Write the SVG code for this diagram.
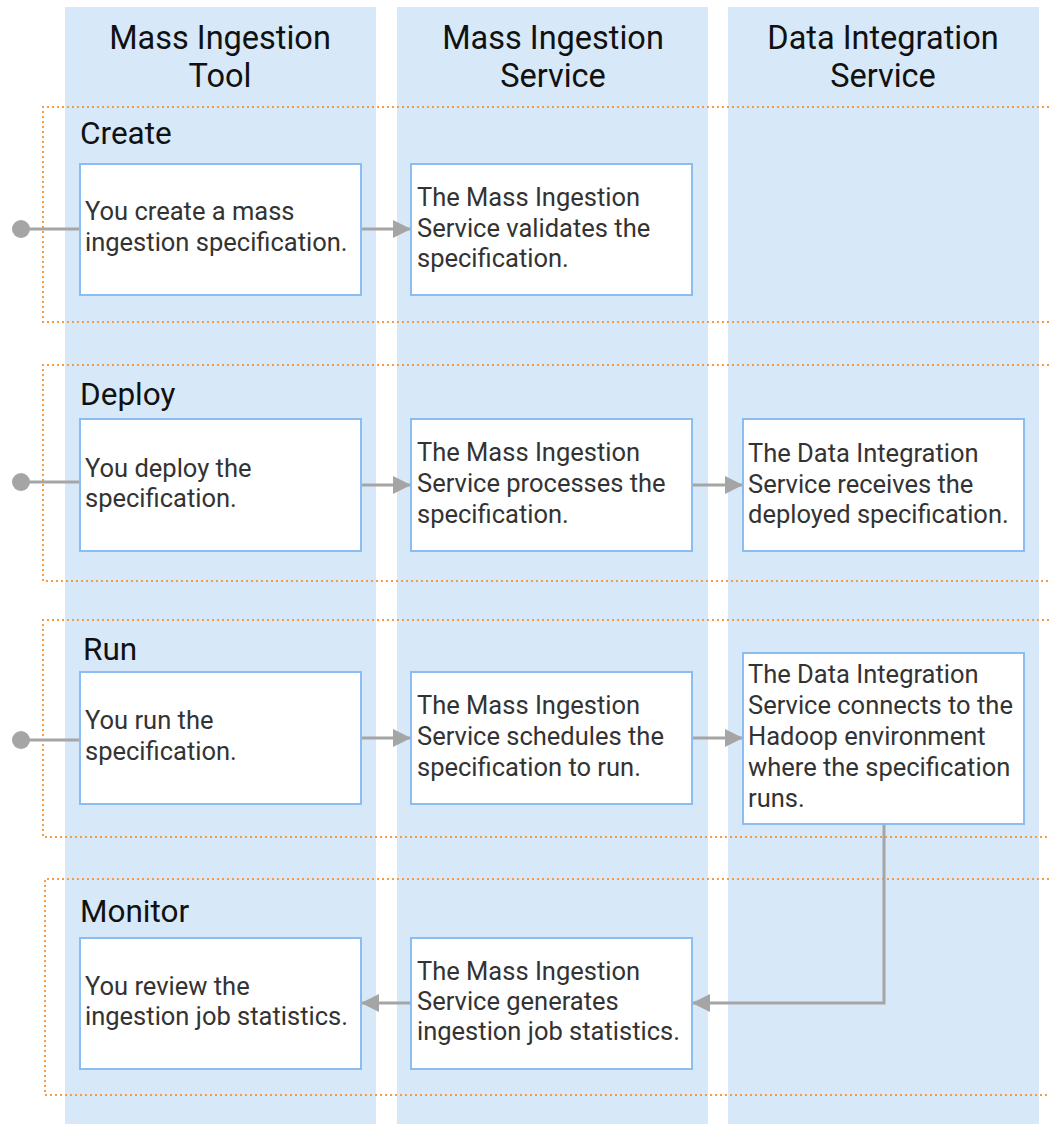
<svg xmlns="http://www.w3.org/2000/svg" width="1049" height="1124" viewBox="0 0 1049 1124">
<style>
.lane{fill:#d7e9f8}
.frame{fill:none;stroke:#f59a45;stroke-width:2;stroke-dasharray:2 3}
.box{fill:#fff;stroke:#8bbcf2;stroke-width:2}
.hd{font-family:Roboto,"Liberation Sans",sans-serif;font-size:32.5px;fill:#111;text-anchor:middle}
.ph{font-family:Roboto,"Liberation Sans",sans-serif;font-size:31.5px;fill:#111}
.tx{font-family:Roboto,"Liberation Sans",sans-serif;font-size:25.5px;fill:#333}
.cn{fill:none;stroke:#a5a5a5;stroke-width:3}
</style>
<defs>
<marker id="ah" markerUnits="userSpaceOnUse" markerWidth="20" markerHeight="20" refX="18" refY="9" orient="auto">
<path d="M0,0 L18,9 L0,18 Z" fill="#a5a5a5"/>
</marker>
</defs>
<rect width="1049" height="1124" fill="#fff"/>
<g id="lanes">
<rect class="lane" x="65" y="7" width="311" height="1117"/>
<rect class="lane" x="397" y="7" width="311" height="1117"/>
<rect class="lane" x="728" y="7" width="311" height="1117"/>
<text class="hd" x="220" y="49">Mass Ingestion</text>
<text class="hd" x="220" y="87">Tool</text>
<text class="hd" x="553" y="49">Mass Ingestion</text>
<text class="hd" x="553" y="87">Service</text>
<text class="hd" x="883" y="49">Data Integration</text>
<text class="hd" x="883" y="87">Service</text>
</g>
<g id="phases">
<path class="frame" d="M1049,107 H43 V322 H1049"/>
<path class="frame" d="M1049,365 H43 V581 H1049"/>
<path class="frame" d="M1049,620 H43 V837 H1049"/>
<path class="frame" d="M1049,879 H45 V1095 H1049"/>
<text class="ph" x="80" y="144">Create</text>
<text class="ph" x="80" y="405">Deploy</text>
<text class="ph" x="83" y="660">Run</text>
<text class="ph" x="80" y="922">Monitor</text>
</g>
<g id="connectors">
<circle cx="21" cy="229" r="9" fill="#a5a5a5"/>
<line class="cn" x1="21" y1="229" x2="80" y2="229"/>
<circle cx="21" cy="482" r="9" fill="#a5a5a5"/>
<line class="cn" x1="21" y1="482" x2="80" y2="482"/>
<circle cx="21" cy="740" r="9" fill="#a5a5a5"/>
<line class="cn" x1="21" y1="740" x2="80" y2="740"/>
<line class="cn" x1="361" y1="229" x2="411" y2="229" marker-end="url(#ah)"/>
<line class="cn" x1="361" y1="485" x2="411" y2="485" marker-end="url(#ah)"/>
<line class="cn" x1="692" y1="485" x2="743" y2="485" marker-end="url(#ah)"/>
<line class="cn" x1="361" y1="738" x2="411" y2="738" marker-end="url(#ah)"/>
<line class="cn" x1="692" y1="738" x2="743" y2="738" marker-end="url(#ah)"/>
<path class="cn" d="M884,824 V1003 H692" marker-end="url(#ah)"/>
<line class="cn" x1="411" y1="1003" x2="361" y2="1003" marker-end="url(#ah)"/>
</g>
<g id="create-tool">
<rect class="box" x="80" y="164" width="281" height="131"/>
<text class="tx" x="85" y="220">You create a mass</text>
<text class="tx" x="85" y="251">ingestion specification.</text>
</g>
<g id="create-service">
<rect class="box" x="411" y="164" width="281" height="131"/>
<text class="tx" x="417" y="206">The Mass Ingestion</text>
<text class="tx" x="417" y="237">Service validates the</text>
<text class="tx" x="417" y="267">specification.</text>
</g>
<g id="deploy-tool">
<rect class="box" x="80" y="419" width="281" height="132"/>
<text class="tx" x="85" y="477">You deploy the</text>
<text class="tx" x="85" y="507">specification.</text>
</g>
<g id="deploy-service">
<rect class="box" x="411" y="419" width="281" height="132"/>
<text class="tx" x="417" y="461">The Mass Ingestion</text>
<text class="tx" x="417" y="492">Service processes the</text>
<text class="tx" x="417" y="523">specification.</text>
</g>
<g id="deploy-dis">
<rect class="box" x="743" y="419" width="281" height="132"/>
<text class="tx" x="748" y="462">The Data Integration</text>
<text class="tx" x="748" y="493">Service receives the</text>
<text class="tx" x="748" y="523">deployed specification.</text>
</g>
<g id="run-tool">
<rect class="box" x="80" y="672" width="281" height="132"/>
<text class="tx" x="85" y="729">You run the</text>
<text class="tx" x="85" y="760">specification.</text>
</g>
<g id="run-service">
<rect class="box" x="411" y="672" width="281" height="132"/>
<text class="tx" x="417" y="714">The Mass Ingestion</text>
<text class="tx" x="417" y="745">Service schedules the</text>
<text class="tx" x="417" y="776">specification to run.</text>
</g>
<g id="run-dis">
<rect class="box" x="743" y="653" width="281" height="171"/>
<text class="tx" x="748" y="683">The Data Integration</text>
<text class="tx" x="748" y="714">Service connects to the</text>
<text class="tx" x="748" y="745">Hadoop environment</text>
<text class="tx" x="748" y="776">where the specification</text>
<text class="tx" x="748" y="807">runs.</text>
</g>
<g id="monitor-tool">
<rect class="box" x="80" y="938" width="281" height="131"/>
<text class="tx" x="85" y="995">You review the</text>
<text class="tx" x="85" y="1025">ingestion job statistics.</text>
</g>
<g id="monitor-service">
<rect class="box" x="411" y="938" width="281" height="131"/>
<text class="tx" x="417" y="980">The Mass Ingestion</text>
<text class="tx" x="417" y="1010">Service generates</text>
<text class="tx" x="417" y="1040">ingestion job statistics.</text>
</g>
</svg>
